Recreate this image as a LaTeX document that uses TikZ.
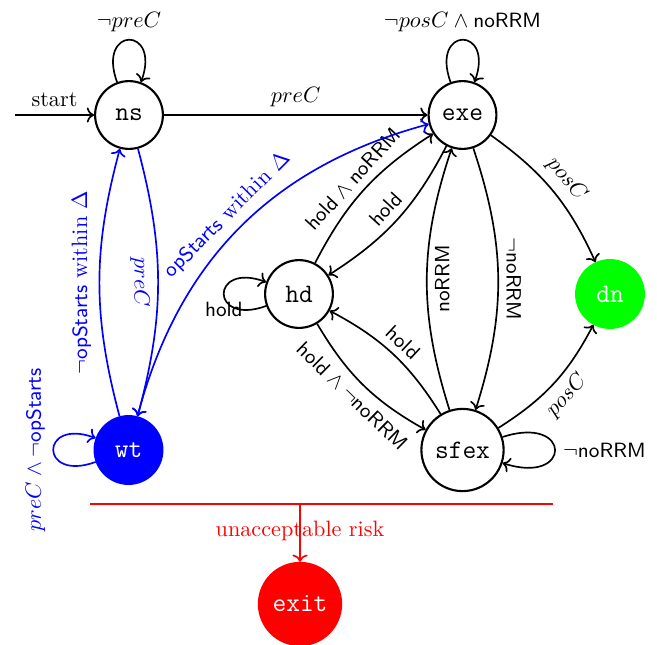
\documentclass[tikz,border=0pt]{standalone}
\usetikzlibrary{arrows.meta}
\newcommand\Sf[1]{\textsf{\fontsize{9.3}{11}\selectfont #1}}
\begin{document}
\begin{tikzpicture}[x=0.45pt,y=0.45pt,
  stnode/.style={circle, draw, line width=0.95pt, minimum size=30.5pt, inner sep=1pt, font=\large\ttfamily},
  bignode/.style={stnode, minimum size=37pt},
  tr/.style={->, line width=0.75pt},
  btr/.style={tr, blue}]
\useasboundingbox (0,0) rectangle (657,644);

% states
\node[stnode] (ns) at (129,529) {ns};
\node[stnode] (exe) at (462.5,529) {exe};
\node[stnode] (hd) at (299,350) {hd};
\node[stnode, draw=green, fill=green, text=white] (dn) at (610,350) {dn};
\node[stnode, draw=blue, fill=blue, text=white] (wt) at (128.5,194) {wt};
\node[bignode] (sfex) at (462.5,194) {sfex};
\node[bignode, draw=red, fill=red, text=white] (exit) at (300,40) {exit};

% initial arrow
\coordinate (start) at (15,529);
\draw[tr] (start) -- node[above] {start} (ns);

% nominal flow
\draw[tr] (ns.110) to[out=110, in=70, distance=27pt] node[above] {$\neg preC$} (ns.70);
\draw[tr] (ns) -- node[above] {$preC$} (exe);
\draw[tr] (exe.110) to[out=110, in=70, distance=27pt] node[above] {$\neg posC \wedge \Sf{noRRM}$} (exe.70);
\draw[tr] (exe) to[bend left=15] node[above, sloped] {$posC$} (dn);
\draw[tr] (sfex) to[bend right=15] node[below, sloped] {$posC$} (dn);

% hold transitions
\draw[tr] (hd) to[bend left=15] node[above, sloped] {$\Sf{hold} \wedge \Sf{noRRM}$} (exe);
\draw[tr] (exe) to[bend left=15] node[above, sloped] {\Sf{hold}} (hd);
\draw[tr] (hd) to[bend right=15] node[below, sloped] {$\Sf{hold} \wedge \neg\Sf{noRRM}$} (sfex);
\draw[tr] (sfex) to[bend right=15] node[above, sloped] {\Sf{hold}} (hd);
\draw[tr] (hd.200) to[out=200, in=160, distance=27pt] node[below] {\Sf{hold}} (hd.160);

% safe execution
\draw[tr] (exe) to[bend left=18] node[rotate=-90, anchor=south] {$\neg\Sf{noRRM}$} (sfex);
\draw[tr] (sfex) to[bend left=18] node[rotate=90, anchor=north] {\Sf{noRRM}} (exe);
\draw[tr] (sfex.18) to[out=18, in=-18, distance=33pt] node[right] {$\neg\Sf{noRRM}$} (sfex.-18);

% waiting
\draw[btr] (ns) to[bend left=15] node[rotate=-90, anchor=north] {$preC$} (wt);
\draw[btr] (wt) to[bend left=15] node[rotate=90, anchor=south] {$\neg\Sf{opStarts}$ within $\Delta$} (ns);
\draw[btr, <->] (wt) to[bend left=30] node[above, sloped] {\Sf{opStarts} within $\Delta$} (exe);
\draw[btr] (wt.200) to[out=200, in=160, distance=27pt] node[rotate=90, anchor=south] {$preC \wedge \neg\Sf{opStarts}$} (wt.160);

% risk exit
\coordinate (rl) at (90,140);
\coordinate (rr) at (553,140);
\coordinate (rb) at (300,140);
\draw[red, line width=0.5pt] (rl) -- (rr);
\draw[red, ->, line width=0.75pt] (rb) -- node[pos=0.47, text=red] {unacceptable risk} (exit);
\end{tikzpicture}
\end{document}
